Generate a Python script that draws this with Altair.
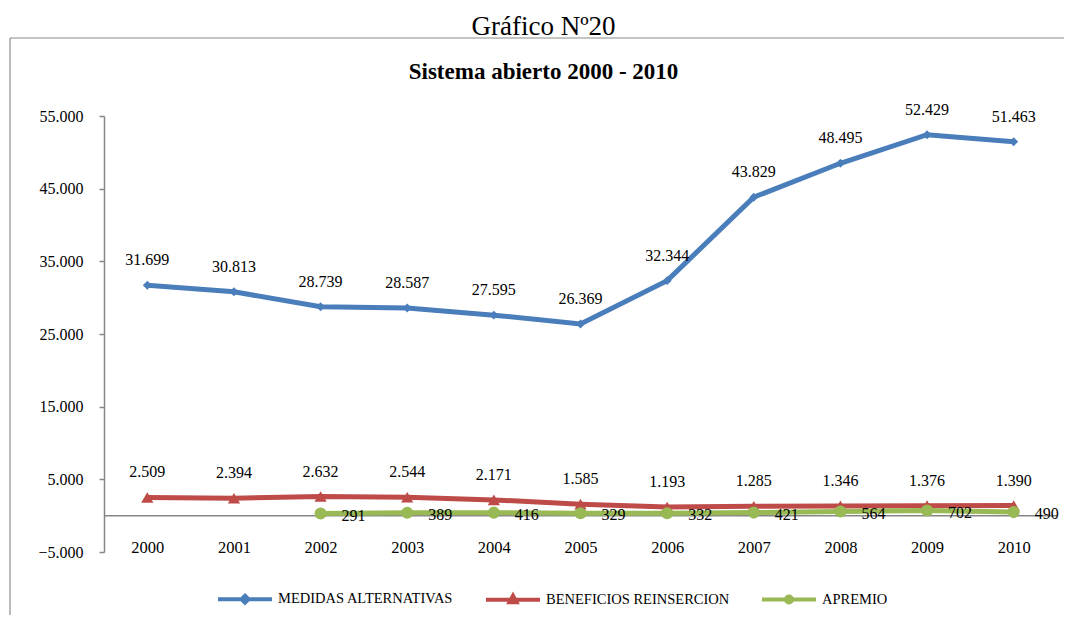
import altair as alt
import pandas as pd

years = ["2000", "2001", "2002", "2003", "2004", "2005", "2006", "2007", "2008", "2009", "2010"]
medidas = [31699, 30813, 28739, 28587, 27595, 26369, 32344, 43829, 48495, 52429, 51463]
beneficios = [2509, 2394, 2632, 2544, 2171, 1585, 1193, 1285, 1346, 1376, 1390]
apremio = [None, None, 291, 389, 416, 329, 332, 421, 564, 702, 490]

series = ["MEDIDAS ALTERNATIVAS", "BENEFICIOS REINSERCION", "APREMIO"]
colors = ["#4A7EBB", "#BE4B48", "#98B954"]
y_ticks = [-5000, 5000, 15000, 25000, 35000, 45000, 55000]

rows = []
for name, vals in zip(series, [medidas, beneficios, apremio]):
    for yr, v in zip(years, vals):
        if v is not None:
            rows.append({"year": yr, "serie": name, "value": v,
                         "label": f"{v:,}".replace(",", ".")})
df = pd.DataFrame(rows)

W, H = 953, 436
FONT = "Liberation Serif"

xenc = alt.X("year:O", sort=years,
             scale=alt.Scale(type="point", padding=0.5),
             axis=alt.Axis(title=None, domain=False, ticks=False, labelAngle=0,
                           labelPadding=-13, labelFontSize=16.5, labelFont=FONT,
                           labelColor="#000"))
yenc = alt.Y("value:Q",
             scale=alt.Scale(domain=[-5000, 55000], nice=False, zero=False),
             axis=alt.Axis(title=None, values=y_ticks, grid=False,
                           domainColor="#868686", domainWidth=1.5,
                           tickColor="#868686", tickSize=5, tickWidth=1.5,
                           labelPadding=16, labelFontSize=16, labelFont=FONT,
                           labelColor="#000",
                           labelExpr="replace(format(datum.value, ','), ',', '.')"))

base = alt.Chart(df).encode(x=xenc, y=yenc)

one = alt.Data(values=[{"k": 1}])
frame_left = alt.Chart(one).mark_rule(color="#8c8c8c", strokeWidth=1.2).encode(
    x=alt.value(-94), y=alt.value(-78), y2=alt.value(520))
frame_top = alt.Chart(one).mark_rule(color="#8c8c8c", strokeWidth=1.2).encode(
    x=alt.value(-94), x2=alt.value(980), y=alt.value(-78))

zero = alt.Chart(one).mark_rule(color="#868686", strokeWidth=1.5).encode(
    y=alt.datum(0))

shapes = ["diamond", "triangle-up", "circle"]
sizes = [80, 150, 145]
lines, points = [], []
for s, c, sh, sz in zip(series, colors, shapes, sizes):
    sub = base.transform_filter(alt.datum.serie == s)
    lines.append(sub.mark_line(strokeWidth=5, color=c))
    points.append(sub.mark_point(filled=True, opacity=1, shape=sh, size=sz, color=c))

labels_above = base.mark_text(dy=-25, fontSize=16, font=FONT, color="#000").encode(
    text="label:N").transform_filter(alt.datum.serie != "APREMIO")
labels_right = base.mark_text(dx=33, dy=2, fontSize=16, font=FONT, color="#000").encode(
    text="label:N").transform_filter(alt.datum.serie == "APREMIO")

legend_paths = [
    "M-1,0H4.4M1.7,-0.35L2.05,0L1.7,0.35L1.35,0Z",
    "M-1,0H4.4M1.7,-0.4L2.05,0.25L1.35,0.25Z",
    "M-1,0H4.4M1.4,0A0.3,0.3 0 1,0 2.0,0A0.3,0.3 0 1,0 1.4,0Z",
]
leg = dict(title=None, orient="none", direction="horizontal",
           legendX=112, legendY=471, padding=0,
           symbolSize=400, symbolStrokeWidth=4, symbolOpacity=1,
           labelOffset=38, columnPadding=24,
           labelFont=FONT, labelFontSize=14.5, labelColor="#000",
           labelLimit=400)
legend_layer = alt.Chart(df).mark_point(filled=False, strokeWidth=4, size=400, opacity=1).encode(
    color=alt.Color("serie:N", scale=alt.Scale(domain=series, range=colors),
                    legend=alt.Legend(**leg)),
    shape=alt.Shape("serie:N", scale=alt.Scale(domain=series, range=legend_paths),
                    legend=alt.Legend(**leg)),
).transform_filter("false")

chart = alt.layer(frame_left, frame_top, zero, *lines, *points, labels_above, labels_right,
                  legend_layer).properties(
    width=W, height=H,
    title=alt.TitleParams(text="Gráfico Nº20", subtitle="Sistema abierto 2000 - 2010",
                          font=FONT, fontSize=27, fontWeight="normal", color="#000",
                          subtitleFont=FONT, subtitleFontSize=23, subtitleFontWeight="bold",
                          subtitleColor="#000", subtitlePadding=20, anchor="middle",
                          offset=-48, dx=-37),
    autosize=alt.AutoSizeParams(type="none"),
    padding={"left": 96, "top": 108, "right": 7, "bottom": 63},
).configure_view(stroke=None).configure_legend(
    labelFont=FONT, labelFontSize=14.5, labelColor="#000", symbolOpacity=1)

chart.save("out.html", embed_options={"renderer": "svg", "actions": False})
